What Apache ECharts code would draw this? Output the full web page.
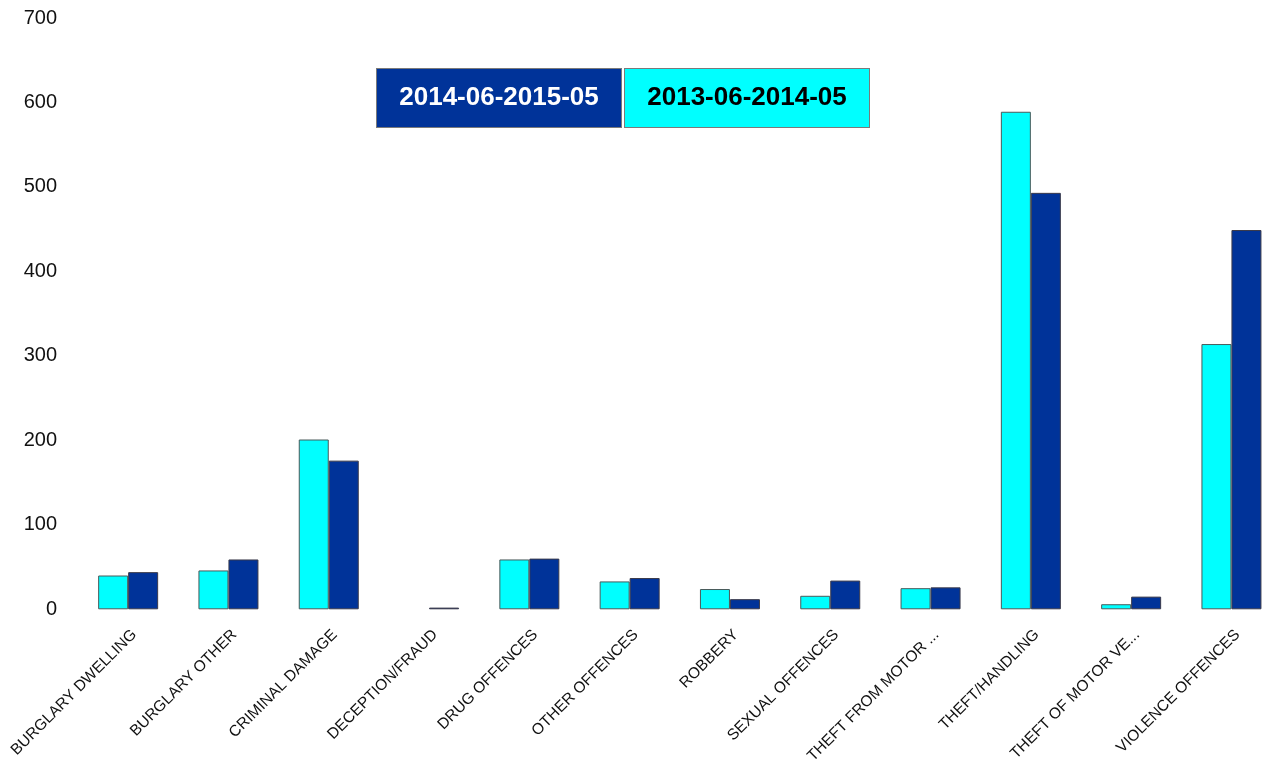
<!DOCTYPE html>
<html>
<head>
<meta charset="utf-8">
<script src="https://cdn.jsdelivr.net/npm/echarts@6/dist/echarts.min.js"></script>
<style>
html,body{margin:0;padding:0;background:#fff;overflow:hidden;}
#chart{width:1290px;height:761px;}
</style>
</head>
<body>
<div id="chart"></div>
<script>
const categories = ['BURGLARY DWELLING','BURGLARY OTHER','CRIMINAL DAMAGE','DECEPTION/FRAUD','DRUG OFFENCES','OTHER OFFENCES','ROBBERY','SEXUAL OFFENCES','THEFT FROM MOTOR ...','THEFT/HANDLING','THEFT OF MOTOR VE...','VIOLENCE OFFENCES'];
const seriesNames = ['2013-06-2014-05','2014-06-2015-05'];
const values2013 = [40, 46, 201, null, 59, 33, 24, 16, 25, 589, 6, 314];
const values2014 = [44, 59, 176, 2, 60, 37, 12, 34, 26, 493, 15, 449];
const yTicks = [0, 100, 200, 300, 400, 500, 600, 700];

const FONT = 'Arial, "Liberation Sans", sans-serif';
const chart = echarts.init(document.getElementById('chart'));

function legendBox(name, left, bg, fg) {
  return {
    show: true, left: left, top: 68, padding: 0,
    itemWidth: 0, itemHeight: 0, icon: 'rect',
    selectedMode: false,
    formatter: '{b|{name}}',
    textStyle: {
      rich: {
        b: {
          backgroundColor: bg, color: fg, fontSize: 26, fontWeight: 'bold', fontFamily: FONT,
          width: 244, height: 58, lineHeight: 62, align: 'center', verticalAlign: 'middle',
          borderColor: '#7a7a7a', borderWidth: 1
        }
      }
    },
    data: [name]
  };
}

chart.setOption({
  backgroundColor: '#fff',
  animation: false,
  legend: [
    legendBox(seriesNames[1], 371, '#003399', '#ffffff'),
    legendBox(seriesNames[0], 619, '#00ffff', '#000000')
  ],
  grid: { left: 78, top: 18, width: 1203.6, height: 591.3, containLabel: false, outerBoundsMode: 'none' },
  xAxis: {
    type: 'category', data: categories,
    axisLine: { show: false }, axisTick: { show: false },
    axisLabel: {
      rotate: 45, interval: 0, margin: 17,
      formatter: '{a|{value}}',
      rich: { a: { fontSize: 15.5, color: '#111', fontFamily: FONT, padding: [17, 0, 0, 0] } }
    }
  },
  yAxis: {
    type: 'value', min: yTicks[0], max: yTicks[yTicks.length - 1], interval: 100,
    axisLine: { show: false }, axisTick: { show: false }, splitLine: { show: false },
    axisLabel: { fontSize: 20, color: '#111', fontFamily: FONT, margin: 21 }
  },
  series: [
    { name: seriesNames[0], type: 'bar', data: values2013, barWidth: 30, barGap: '0%',
      itemStyle: { color: '#00ffff', borderColor: '#4a5a5a', borderWidth: 1 } },
    { name: seriesNames[1], type: 'bar', data: values2014, barWidth: 30, barGap: '0%',
      itemStyle: { color: '#003399', borderColor: '#3a3a4a', borderWidth: 1 } }
  ]
});
</script>
</body>
</html>
